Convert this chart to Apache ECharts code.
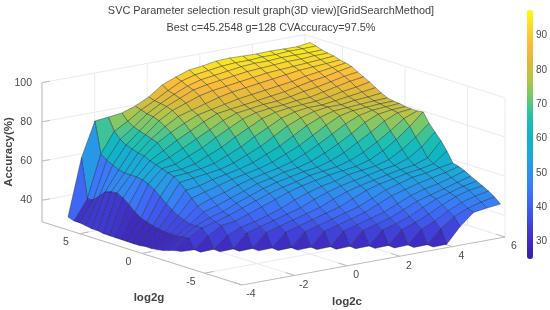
<!DOCTYPE html>
<html>
<head>
<meta charset="utf-8">
<title>SVC parameter selection</title>
<style>
  html, body { margin: 0; padding: 0; background: #fff; }
  #chart { width: 550px; height: 310px; }
</style>
<script src="https://cdn.jsdelivr.net/npm/echarts@6/dist/echarts.min.js"></script>
</head>
<body>
<div id="chart"></div>
<script>
var cValues = [-3, -2.5, -2, -1.5, -1, -0.5, 0, 0.5, 1, 1.5, 2, 2.5, 3, 3.5, 4, 4.5, 5, 5.5, 6];
var gValues = [-8, -7.5, -7, -6.5, -6, -5.5, -5, -4.5, -4, -3.5, -3, -2.5, -2, -1.5, -1, -0.5, 0,
  0.5, 1, 1.5, 2, 2.5, 3, 3.5, 4, 4.5, 5, 5.5, 6, 6.5, 7, 7.5, 8];
var cTicks = [-4, -2, 0, 2, 4, 6];
var gTicks = [-5, 0, 5];
var zTicks = [40, 60, 80, 100];
var n = null;

// accuracy per row of g (lowest g first), per column of c. the front corner has no surface
var accuracy = [
  [n,n,n,n,n,n,n,n,n,n,n,n,n,30,30.2,38,44,45,45.8],
  [n,n,n,n,n,n,n,n,n,n,n,n,30,30.2,37,42,45,47,48.4],
  [n,n,n,n,n,n,n,n,n,n,n,30,30.2,37,40,44,47,49,50.4],
  [n,n,n,n,n,n,n,n,n,n,30,30.2,37,39.5,42.5,46,49,51,52],
  [n,n,n,n,n,n,n,n,n,30,30.2,37,39,41.5,45,48,50,52,53.5],
  [n,n,n,n,n,n,n,n,30,30.2,37,39,41,44,47,49,51,53,55],
  [n,n,n,n,n,n,n,30,30.2,37,39,41,43,46,49,51,52.5,54.5,56.7],
  [n,n,n,n,n,n,30,30.2,37,39,41,43,46,49,51,53,54.5,56,57.9],
  [n,n,n,n,n,30,30.2,37,39,41,43,45,48,51,53,55,56,57.5,58.7],
  [n,n,n,n,30,30.2,37,39,41,43,45,48,51,53,54.5,56,57,58.5,63.8],
  [n,n,n,30,30.2,37,39,41,43,45,48,50.5,52.5,54,55.5,57,58,60.5,68],
  [n,n,30,30.2,37,39,41,43,45,48,50.5,52.5,54,55.5,57,58,60.5,65,71.5],
  [n,30,30.2,36,39,40.5,42.5,45,48,50.5,52.5,54,56,57,58,60,64,69,75],
  [30.5,30.2,36,40,41,43.5,46,48.5,51,53,54.5,56,57,58,60,63.5,68,73.5,79.7],
  [30,35,39,41,43,45.5,48,50.5,52.5,54,56,57,58,60,63,67,71.5,76.5,79.2],
  [29,34.7,39,42,44,47,49.5,52,54,55.5,57,58,60,63,67,71,75.5,78.5,79.2],
  [28,34.2,39,44,46,48.5,51,53.5,55,57,58,60,63,66.5,70.5,75,78,79,79.4],
  [27.5,34.2,40,46,48.5,50.5,53,55,56.5,58,60,63,66.5,70.5,74.5,77.5,79,79.5,80],
  [27,34.2,41.2,49,51,53,55,56.5,58,60,63,66,70,74,77.5,79,79.5,80,80.2],
  [27,34.8,43.2,52,53,55,56.5,58,60,63,66,70,74,77,79,79.5,80,80.5,80.8],
  [26.5,35.3,45.3,55,56,57,58,60,63,66,70,74,77,79,80,80,81,81.5,82.3],
  [26.5,36.3,48,57,57.5,58.5,60,63,66,70,73.5,77,79,80,80,81,82,83,84],
  [26.5,37.3,50.4,58,58.5,60,63,66,70,73.5,77,79,80,80.5,81,82,83.5,84.5,85.9],
  [26.5,39.4,52.5,59,60,63,66,70,73.5,77,79,80,80.5,81.5,82,83.5,85,86.5,87.5],
  [26.5,42,53.5,60,62.5,66,69.5,73,76.5,79,80,81,81.5,82.5,84,85,86.5,88,89],
  [26.5,44.5,54,61,65,69,72.5,76,79,80,81,82,83,84,85.5,87,88,89.5,90.8],
  [26.5,46,54,62.5,68,72,75.5,78.5,80,81.5,83,84,85,86,87,88.5,89.5,90.5,91.6],
  [27,45.6,54,63,69,74,78,80,82,84,85.5,86.5,87.5,88.5,89.5,90.5,91,91.5,92.1],
  [27,44.6,54.6,64,70,76,80,82.5,85,86.5,87.5,88.5,89.5,90.5,91,91.5,92,92.5,93.1],
  [27.5,41.5,56,65,71,77,81,84,87,88.5,89.5,90.5,91.5,92,92.5,93,93,93.5,93.6],
  [28,38.5,57.6,67,72,77.5,81.5,85,88,90,91,92,93,93.5,93.5,94,94,94,94.2],
  [28,38,59.7,70,74,78.5,82,86,89.5,91.5,92.5,93.5,94,94,94.5,94.5,95,95,95.2],
  [29,58,75.5,76.3,77.2,79.5,82.9,87.8,90.6,93,93.8,95.1,95.4,95.2,95,95.3,95.1,95,96]
];

var parula = ['#3b1f9e', '#3f2cc0', '#4144dc', '#4060f2', '#3a7cf8', '#2b94ea', '#1ba9d8', '#10b7c2',
  '#22bfae', '#6cc774', '#aec64c', '#dcba3a', '#fab93c', '#f8d92c', '#f9fb15'];
var zFloor = 29;
var zMin = 25, zMax = 97.5;
var leftWedgeValue = 42;

// surface camera, measured on the reference (the far side is drawn a bit narrower than the box)
function surfacePoint(c, g, z) {
  return [68 + (c + 3) * 26.9 + (8 - g) * 11.9,
    280.2 - (c + 3) * 4.8 - (g + 8) * 3.95 - (z - zFloor) * 1.96];
}
// box camera
function boxPoint(c, g, z) {
  return [242 + (c + 4) * 26.3 - (g + 8) * 12.5,
    285 - (c + 4) * 4.8 - (g + 8) * 3.95 - (z - zFloor) * 1.96];
}

// back faces first
var cells = [];
for (var r = gValues.length - 2; r >= 0; r--) {
  for (var j = cValues.length - 2; j >= 0; j--) {
    if (accuracy[r][j] === null || accuracy[r][j + 1] === null ||
        accuracy[r + 1][j] === null || accuracy[r + 1][j + 1] === null) continue;
    // face colour from its three front corners
    var v = (accuracy[r][j] + accuracy[r][j + 1] + accuracy[r + 1][j]) / 3;
    // the last strip at the left is blue in the reference although its front corner is low
    if (r === gValues.length - 2 && j === 0) v = leftWedgeValue;
    cells.push([j, r, v]);
  }
}

var gridLine = '#ebebeb';
var axisLine = '#bdbdbd';
var boxLines = [];
function addLine(a, b, color) {
  boxLines.push([a[0], a[1], a[2], b[0], b[1], b[2], color]);
}
var cLow = -4, cHigh = 6, gLow = -8, gHigh = 8, zTop = 100;
cTicks.forEach(function (c) {
  addLine([c, gLow, zFloor], [c, gHigh, zFloor], gridLine);
  addLine([c, gHigh, zFloor], [c, gHigh, zTop], gridLine);
});
gTicks.forEach(function (g) {
  addLine([cLow, g, zFloor], [cHigh, g, zFloor], gridLine);
  addLine([cHigh, g, zFloor], [cHigh, g, zTop], gridLine);
});
zTicks.forEach(function (z) {
  addLine([cLow, gHigh, z], [cHigh, gHigh, z], gridLine);
  addLine([cHigh, gHigh, z], [cHigh, gLow, z], gridLine);
});
addLine([cHigh, gLow, zFloor], [cHigh, gLow, zTop], gridLine);
addLine([cLow, gHigh, zFloor], [cLow, gHigh, zTop], axisLine);
addLine([cLow, gHigh, zFloor], [cLow, gLow, zFloor], axisLine);
addLine([cLow, gLow, zFloor], [cHigh, gLow, zFloor], axisLine);
cTicks.forEach(function (c) {
  addLine([c, gLow, zFloor], [c, gLow + 0.7, zFloor], axisLine);
});
gTicks.forEach(function (g) {
  addLine([cLow, g, zFloor], [cLow + 0.35, g, zFloor], axisLine);
});
zTicks.forEach(function (z) {
  addLine([cLow, gHigh, z], [cLow + 0.3, gHigh, z], axisLine);
});

// tick labels: value, position on the box, offset in px, alignment
var tickLabels = [];
cTicks.forEach(function (c) {
  tickLabels.push([String(c), boxPoint(c, gLow, zFloor), 9, 9.5, 'center']);
});
gTicks.forEach(function (g) {
  tickLabels.push([String(g), boxPoint(cLow, g, zFloor), -13.5, 8.5, 'center']);
});
zTicks.forEach(function (z) {
  tickLabels.push([String(z), boxPoint(cLow, gHigh, z), -10, 0, 'right']);
});

var tickFont = '10.5px "Liberation Sans"';
var tickColor = '#4a4a4a';

var option = {
  animation: false,
  backgroundColor: '#fff',
  title: {
    text: 'SVC Parameter selection result graph(3D view)[GridSearchMethod]\nBest c=45.2548 g=128 CVAccuracy=97.5%',
    left: 266,
    top: -3,
    textAlign: 'center',
    textStyle: {
      fontFamily: 'Liberation Sans',
      fontSize: 10.9,
      fontWeight: 'normal',
      color: '#444',
      lineHeight: 17
    }
  },
  grid: [
    { left: 0, top: 0, width: 550, height: 310 },
    { left: 527, top: 1.4, width: 6, height: 274.4 }
  ],
  xAxis: [
    { gridIndex: 0, type: 'value', min: 0, max: 550, show: false },
    { gridIndex: 1, type: 'value', min: 0, max: 1, show: false }
  ],
  yAxis: [
    { gridIndex: 0, type: 'value', min: 0, max: 310, inverse: true, show: false },
    {
      gridIndex: 1,
      type: 'value',
      min: 20,
      max: 100,
      interval: 10,
      position: 'right',
      axisLine: { show: false },
      axisTick: { show: false },
      splitLine: { show: false },
      axisLabel: {
        margin: 3,
        color: tickColor,
        fontFamily: 'Liberation Sans',
        fontSize: 10,
        formatter: function (val) {
          return (val === 20 || val === 100) ? '' : String(val);
        }
      }
    }
  ],
  visualMap: {
    type: 'continuous',
    seriesIndex: 1,
    dimension: 2,
    min: zMin,
    max: zMax,
    left: 527,
    top: 10,
    padding: 0,
    itemWidth: 6,
    itemHeight: 249,
    calculable: false,
    hoverLink: false,
    text: null,
    inRange: { color: parula }
  },
  graphic: [
    { type: 'text', x: 149, y: 298, style: { text: 'log2g', font: 'bold 11.5px "Liberation Sans"', fill: '#444', align: 'center', verticalAlign: 'middle' } },
    { type: 'text', x: 347, y: 302, style: { text: 'log2c', font: 'bold 11.5px "Liberation Sans"', fill: '#444', align: 'center', verticalAlign: 'middle' } },
    { type: 'text', x: 9, y: 152, rotation: Math.PI / 2, style: { text: 'Accuracy(%)', font: 'bold 11.5px "Liberation Sans"', fill: '#444', align: 'center', verticalAlign: 'middle' } }
  ],
  series: [
    {
      type: 'custom',
      coordinateSystem: 'cartesian2d',
      silent: true,
      data: boxLines.map(function (l, i) { return [i, 0]; }),
      encode: { x: 0, y: 1 },
      renderItem: function (params, api) {
        var l = boxLines[api.value(0)];
        var a = api.coord(boxPoint(l[0], l[1], l[2]));
        var b = api.coord(boxPoint(l[3], l[4], l[5]));
        return {
          type: 'line',
          shape: { x1: a[0], y1: a[1], x2: b[0], y2: b[1] },
          style: { stroke: l[6], lineWidth: 1 }
        };
      }
    },
    {
      type: 'custom',
      coordinateSystem: 'cartesian2d',
      silent: true,
      progressive: 0,
      data: cells,
      encode: { x: 0, y: 1 },
      renderItem: function (params, api) {
        var j = api.value(0), r = api.value(1);
        var corners = [[j, r], [j + 1, r], [j + 1, r + 1], [j, r + 1]].map(function (p) {
          return api.coord(surfacePoint(cValues[p[0]], gValues[p[1]], accuracy[p[1]][p[0]]));
        });
        return {
          type: 'polygon',
          shape: { points: corners },
          style: { fill: api.visual('color'), stroke: 'rgba(15,25,45,0.45)', lineWidth: 0.8 }
        };
      }
    },
    {
      type: 'custom',
      coordinateSystem: 'cartesian2d',
      silent: true,
      data: tickLabels.map(function (t, i) { return [i, 0]; }),
      encode: { x: 0, y: 1 },
      renderItem: function (params, api) {
        var t = tickLabels[api.value(0)];
        var p = api.coord(t[1]);
        return {
          type: 'text',
          x: p[0] + t[2],
          y: p[1] + t[3],
          style: { text: t[0], font: tickFont, fill: tickColor, align: t[4], verticalAlign: 'middle' }
        };
      }
    }
  ]
};

var chart = echarts.init(document.getElementById('chart'), null, { renderer: 'canvas' });
chart.setOption(option);
</script>
</body>
</html>
